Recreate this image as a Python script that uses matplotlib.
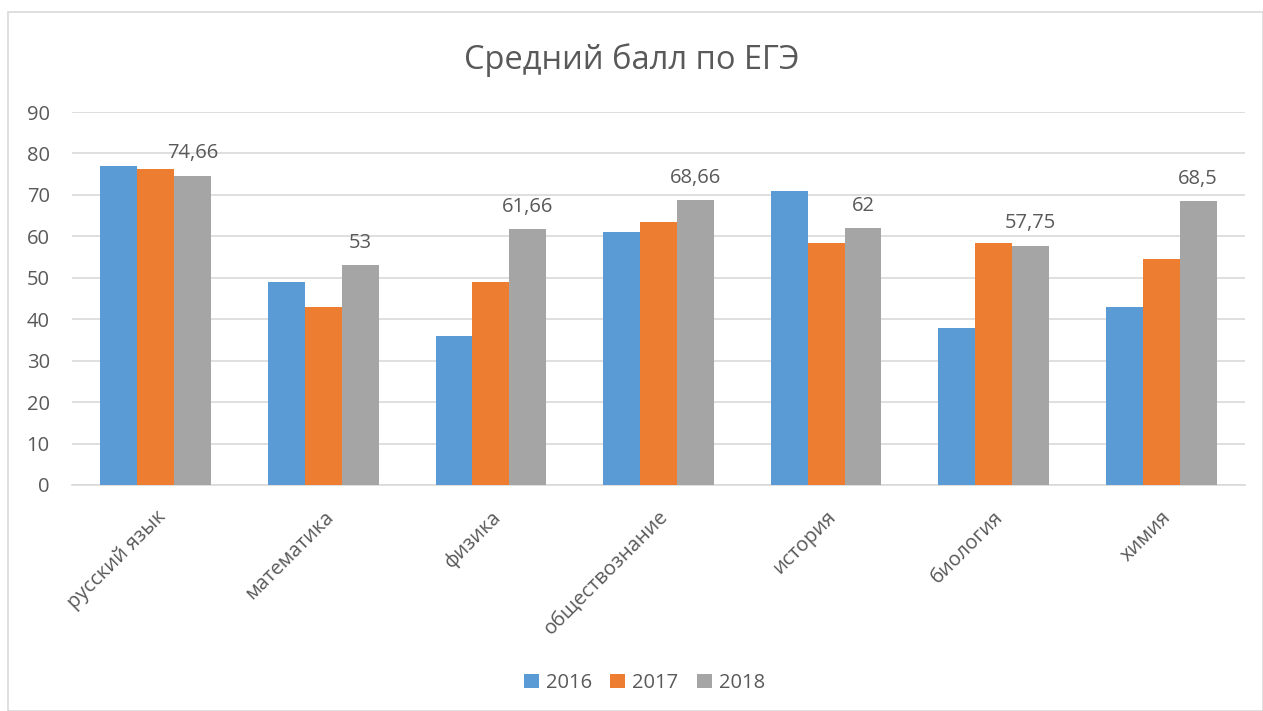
import numpy as np
import matplotlib.pyplot as plt
from matplotlib.patches import Rectangle

plt.rcParams['font.family'] = ['Open Sans', 'DejaVu Sans']

subjects = ["русский язык", "математика", "физика", "обществознание",
            "история", "биология", "химия"]
years = ["2016", "2017", "2018"]
score_2016 = [77, 49, 36, 61, 71, 38, 43]
score_2017 = [76.2, 43, 49, 63.4, 58.5, 58.3, 54.5]
score_2018 = [74.66, 53, 61.66, 68.66, 62, 57.75, 68.5]
colors = ["#5B9BD5", "#ED7D31", "#A5A5A5"]
text_color = "#595959"

fig = plt.figure(figsize=(12.63, 7.11), dpi=100)
ax = fig.add_axes([72 / 1263, 1 - 485 / 711, 1173 / 1263, 373 / 711])

x = np.arange(len(subjects))
w = 0.22
series = [score_2016, score_2017, score_2018]
for i, (vals, c, yr) in enumerate(zip(series, colors, years)):
    bars = ax.bar(x + (i - 1) * w, vals, w, color=c, label=yr, zorder=3)
    if yr == "2018":
        for b, v in zip(bars, vals):
            lbl = f"{v:g}".replace(".", ",")
            ax.annotate(lbl, (b.get_x() + b.get_width() / 2, v),
                        xytext=(0, 9), textcoords="offset points",
                        ha="center", va="bottom", fontsize=14.5, color=text_color)

ax.set_xlim(-0.5, len(subjects) - 0.5)
ax.set_ylim(0, 90)
ax.set_yticks(range(0, 91, 10))
ax.grid(axis="y", color="#d9d9d9", linewidth=1.2, zorder=0)
for s in ["top", "right", "left"]:
    ax.spines[s].set_visible(False)
ax.spines["bottom"].set_color("#d9d9d9")
ax.spines["bottom"].set_linewidth(1.2)
ax.tick_params(axis="both", length=0, labelsize=14.5, labelcolor=text_color)
ax.tick_params(axis="y", pad=16)
ax.set_xticks(x)
ax.set_xticklabels(subjects, rotation=45, ha="right", rotation_mode="anchor")
ax.tick_params(axis="x", pad=16)

fig.text(0.5, 1 - 60 / 711, "Средний балл по ЕГЭ", ha="center", va="center",
         fontsize=23.5, color=text_color)

ax.legend(loc="center", bbox_to_anchor=(0.488, (485 - 683) / 373), ncol=3,
          frameon=False, fontsize=14.5, labelcolor=text_color,
          handlelength=0.75, handleheight=0.75, handletextpad=0.35,
          columnspacing=0.9)

# chart border
fig.patches.append(Rectangle((8 / 1263, 0), 1 - 8 / 1263, 1 - 12 / 711,
                             transform=fig.transFigure, fill=False,
                             edgecolor="#d9d9d9", linewidth=1.2))

fig.savefig("out.png", dpi=100)
